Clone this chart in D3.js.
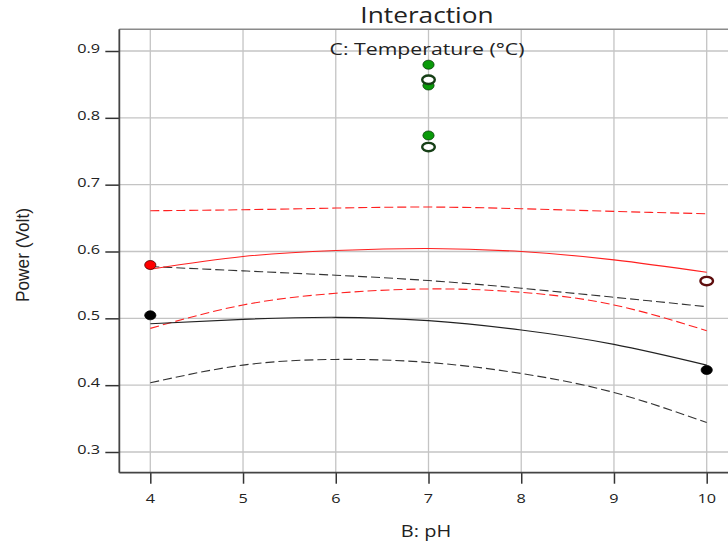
<!DOCTYPE html>
<html>
<head>
<meta charset="utf-8">
<script src="https://cdn.jsdelivr.net/npm/d3@7"></script>
<style>
  html, body { margin: 0; padding: 0; background: #fff; overflow: hidden; }
  svg { display: block; }
</style>
</head>
<body>
<svg id="chart" width="728" height="548"></svg>
<script>
// ---------------- data ----------------
const phTicks = [4, 5, 6, 7, 8, 9, 10];
const powerTicks = [0.3, 0.4, 0.5, 0.6, 0.7, 0.8, 0.9];
const ph = [4, 5, 6, 7, 8, 9, 10];

// low temperature (black)
const lowMean  = [0.4920, 0.4985, 0.5015, 0.4965, 0.4825, 0.4610, 0.4300];
const lowUpper = [0.5775, 0.5710, 0.5645, 0.5565, 0.5450, 0.5315, 0.5175];
const lowLower = [0.4035, 0.4300, 0.4385, 0.4340, 0.4175, 0.3890, 0.3440];

// high temperature (red)
const highMean  = [0.5735, 0.5925, 0.6015, 0.6045, 0.6000, 0.5875, 0.5690];
const highUpper = [0.6610, 0.6625, 0.6650, 0.6665, 0.6640, 0.6600, 0.6565];
const highLower = [0.4850, 0.5200, 0.5375, 0.5440, 0.5390, 0.5200, 0.4815];

// design points
const lowPointsPh    = [4, 10];
const lowPointsPower = [0.5045, 0.4227];
const highFilledPh    = [4];
const highFilledPower = [0.5798];
const highHollowPh    = [10];
const highHollowPower = [0.5558];
const centerFilledPh    = [7, 7, 7];
const centerFilledPower = [0.8795, 0.8484, 0.7736];
const centerHollowPh    = [7, 7];
const centerHollowPower = [0.8570, 0.7563];

const titleText = "Interaction";
const subtitleText = "C: Temperature (°C)";
const xTitle = "B: pH";
const yTitle = "Power (Volt)";

// ---------------- scales ----------------
const svg = d3.select("#chart");
const x = d3.scaleLinear().domain([4, 10]).range([150.3, 706.7]);
const y = d3.scaleLinear().domain([0.3, 0.9]).range([452, 51]);

const plotLeft = x(3.666), plotRight = x(10.6);
const plotTop = y(0.9325), plotBottom = y(0.269);

const SX = 1.25; // horizontal stretch of text in the reference
const FONT = "'Open Sans', 'DejaVu Sans', sans-serif";

function stretchedText(g, tx, ty, txt, size, anchor) {
  return g.append("text")
    .attr("transform", `translate(${tx},${ty}) scale(${SX},1)`)
    .attr("text-anchor", anchor)
    .attr("font-family", FONT)
    .attr("font-size", size)
    .attr("fill", "#222")
    .text(txt);
}

// ---------------- grid ----------------
const grid = svg.append("g");
grid.selectAll("line.v").data(phTicks).join("line")
  .attr("x1", d => x(d)).attr("x2", d => x(d))
  .attr("y1", plotTop).attr("y2", plotBottom)
  .attr("stroke", "#c4c4c4").attr("stroke-width", 1.3);
grid.selectAll("line.h").data(powerTicks).join("line")
  .attr("x1", plotLeft).attr("x2", plotRight)
  .attr("y1", d => y(d)).attr("y2", d => y(d))
  .attr("stroke", "#c4c4c4").attr("stroke-width", 1.3);

// top frame border
svg.append("line")
  .attr("x1", plotLeft).attr("x2", plotRight).attr("y1", plotTop).attr("y2", plotTop)
  .attr("stroke", "#8a8a8a").attr("stroke-width", 1.5);

// ---------------- axes ----------------
const xAxis = d3.axisBottom(x).tickValues(phTicks).tickSize(11).tickFormat("");
const yAxis = d3.axisLeft(y).tickValues(powerTicks).tickSize(14).tickFormat("");

const gx = svg.append("g").attr("transform", `translate(0,${plotBottom})`).call(xAxis);
gx.select(".domain").remove();
gx.selectAll(".tick line").attr("stroke", "#333").attr("stroke-width", 1.5);

const gy = svg.append("g").attr("transform", `translate(${plotLeft},0)`).call(yAxis);
gy.select(".domain").remove();
gy.selectAll(".tick line").attr("stroke", "#333").attr("stroke-width", 1.5);

svg.append("line").attr("x1", plotLeft).attr("x2", plotLeft).attr("y1", plotTop).attr("y2", plotBottom)
  .attr("stroke", "#444").attr("stroke-width", 1.8);
svg.append("line").attr("x1", plotLeft).attr("x2", plotRight).attr("y1", plotBottom).attr("y2", plotBottom)
  .attr("stroke", "#444").attr("stroke-width", 1.8);

// tick labels
const tl = svg.append("g");
phTicks.forEach(d => stretchedText(tl, x(d), 503, d3.format("d")(d), 13, "middle"));
powerTicks.forEach(d => stretchedText(tl, 100, y(d) + 2, d3.format(".1f")(d), 13, "end"));

// ---------------- lines ----------------
const line = d3.line().x(d => x(d[0])).y(d => y(d[1])).curve(d3.curveNatural);
const zip = arr => ph.map((p, i) => [p, arr[i]]);

const lines = [
  { v: highUpper, color: "#ff2020", dash: "9,4" },
  { v: highLower, color: "#ff2020", dash: "9,4" },
  { v: lowUpper,  color: "#333",    dash: "9,4" },
  { v: lowLower,  color: "#333",    dash: "9,4" },
  { v: highMean,  color: "#ff2020", dash: null },
  { v: lowMean,   color: "#222",    dash: null }
];
svg.append("g").selectAll("path").data(lines).join("path")
  .attr("d", d => line(zip(d.v)))
  .attr("fill", "none")
  .attr("stroke", d => d.color)
  .attr("stroke-width", 1.1)
  .attr("stroke-dasharray", d => d.dash);

// ---------------- points ----------------
const pts = svg.append("g");
function filled(phs, vals, fill, stroke) {
  pts.append("g").selectAll("ellipse").data(phs.map((p, i) => [p, vals[i]])).join("ellipse")
    .attr("cx", d => x(d[0])).attr("cy", d => y(d[1]))
    .attr("rx", 5.6).attr("ry", 4.5)
    .attr("fill", fill).attr("stroke", stroke).attr("stroke-width", 0.8);
}
function hollow(phs, vals, stroke) {
  pts.append("g").selectAll("ellipse").data(phs.map((p, i) => [p, vals[i]])).join("ellipse")
    .attr("cx", d => x(d[0])).attr("cy", d => y(d[1]))
    .attr("rx", 6.3).attr("ry", 4.2)
    .attr("fill", "#fff").attr("stroke", stroke).attr("stroke-width", 2.4);
}
filled(lowPointsPh, lowPointsPower, "#000", "#000");
filled(highFilledPh, highFilledPower, "#ff0000", "#4a0000");
hollow(highHollowPh, highHollowPower, "#5e0d0d");
filled(centerFilledPh, centerFilledPower, "#0a9a0a", "#0b3d0b");
hollow(centerHollowPh, centerHollowPower, "#163f16");

// ---------------- titles ----------------
const tg = svg.append("g");
stretchedText(tg, 427, 22.7, titleText, 21, "middle");
stretchedText(tg, 427, 55, subtitleText, 17, "middle");
stretchedText(tg, 426, 537, xTitle, 16, "middle");

svg.append("text")
  .attr("transform", "translate(29,255) rotate(-90)")
  .attr("text-anchor", "middle")
  .attr("font-family", "'Liberation Sans Narrow', 'Liberation Sans', Arial, sans-serif")
  .attr("font-size", 19)
  .attr("textLength", 94)
  .attr("lengthAdjust", "spacingAndGlyphs")
  .attr("fill", "#222")
  .text(yTitle);
</script>
</body>
</html>
